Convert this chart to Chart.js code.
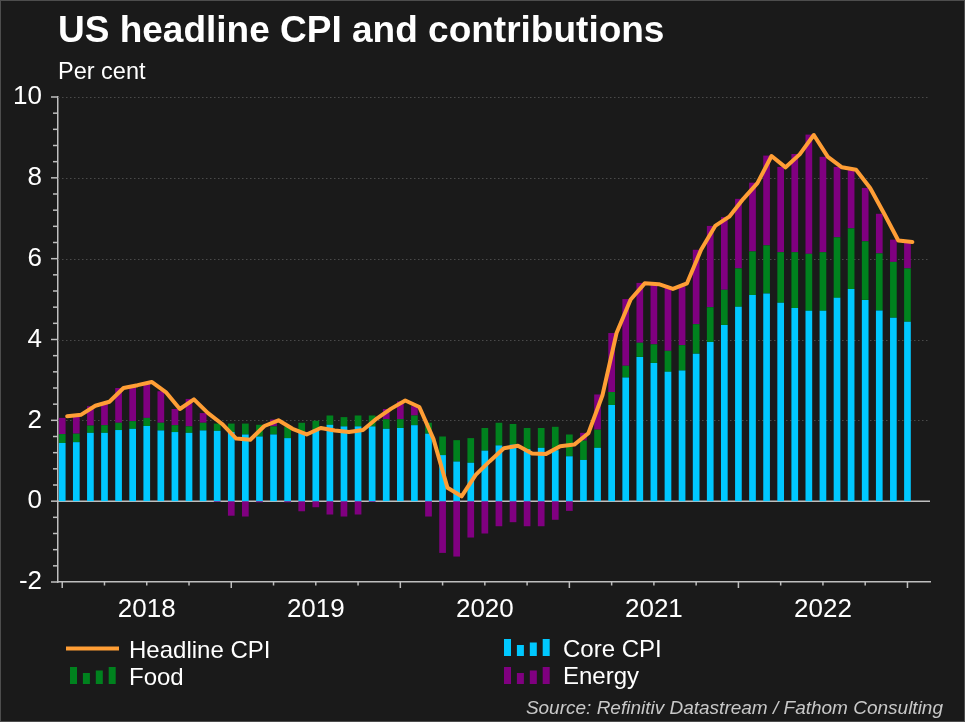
<!DOCTYPE html>
<html>
<head>
<meta charset="utf-8">
<script src="https://cdn.jsdelivr.net/npm/chart.js@4.4.1/dist/chart.umd.min.js"></script>
<style>
html,body{margin:0;padding:0;background:#1a1a1a;}
#frame{position:relative;width:965px;height:722px;background:#1a1a1a;overflow:hidden;
  font-family:"Liberation Sans",Arial,sans-serif;color:#fff;}
#edge{position:absolute;left:0;top:0;width:963px;height:720px;border:1px solid #4d4d4d;pointer-events:none;}
#chart{position:absolute;left:0;top:0;}
.txt{position:absolute;line-height:1;white-space:nowrap;}
#title{left:58px;top:11px;font-size:37px;font-weight:bold;}
#unit{left:58px;top:59.5px;font-size:23.5px;}
#source{right:22px;top:698px;font-size:19px;font-style:italic;color:#c8c8c8;}
.leg{font-size:24px;}
.icon{position:absolute;}
</style>
</head>
<body>
<div id="frame">
  <canvas id="chart" width="965" height="722"></canvas>
  <div class="txt" id="title">US headline CPI and contributions</div>
  <div class="txt" id="unit">Per cent</div>
  <div id="legend"></div>
  <div class="txt" id="source">Source: Refinitiv Datastream / Fathom Consulting</div>
  <div id="edge"></div>
</div>
<script>
/* DATA: monthly, Jan 2018 - Jan 2023, percentage points */

const months = [
"2018-01","2018-02","2018-03","2018-04","2018-05","2018-06","2018-07","2018-08","2018-09","2018-10","2018-11","2018-12",
"2019-01","2019-02","2019-03","2019-04","2019-05","2019-06","2019-07","2019-08","2019-09","2019-10","2019-11","2019-12",
"2020-01","2020-02","2020-03","2020-04","2020-05","2020-06","2020-07","2020-08","2020-09","2020-10","2020-11","2020-12",
"2021-01","2021-02","2021-03","2021-04","2021-05","2021-06","2021-07","2021-08","2021-09","2021-10","2021-11","2021-12",
"2022-01","2022-02","2022-03","2022-04","2022-05","2022-06","2022-07","2022-08","2022-09","2022-10","2022-11","2022-12",
"2023-01"];

const headline = [
2.10,2.14,2.36,2.46,2.80,2.87,2.95,2.70,2.28,2.52,2.18,1.91,
1.55,1.52,1.86,2.00,1.79,1.65,1.81,1.75,1.71,1.76,2.05,2.29,
2.49,2.33,1.54,0.33,0.12,0.65,0.99,1.31,1.37,1.18,1.17,1.36,
1.40,1.68,2.62,4.16,4.99,5.39,5.37,5.25,5.39,6.22,6.81,7.04,
7.48,7.87,8.54,8.26,8.58,9.06,8.52,8.26,8.20,7.75,7.11,6.45,
6.41];

const core = [
1.44,1.46,1.69,1.69,1.76,1.79,1.86,1.75,1.71,1.69,1.75,1.74,
1.71,1.65,1.60,1.65,1.56,1.69,1.77,1.89,1.85,1.85,1.85,1.79,
1.81,1.88,1.67,1.14,0.98,0.95,1.25,1.38,1.40,1.29,1.32,1.26,
1.11,1.02,1.32,2.38,3.06,3.57,3.42,3.20,3.23,3.65,3.94,4.36,
4.81,5.10,5.14,4.91,4.78,4.71,4.71,5.03,5.25,4.98,4.72,4.54,
4.44];

const food = [
0.22,0.21,0.18,0.19,0.18,0.19,0.20,0.19,0.17,0.16,0.19,0.18,
0.21,0.27,0.29,0.20,0.29,0.25,0.22,0.23,0.23,0.27,0.27,0.24,
0.22,0.24,0.27,0.46,0.53,0.61,0.56,0.56,0.51,0.52,0.49,0.58,
0.54,0.48,0.45,0.32,0.29,0.35,0.46,0.52,0.63,0.73,0.86,0.87,
0.95,1.08,1.19,1.25,1.38,1.41,1.45,1.50,1.50,1.45,1.41,1.38,
1.32];

const energy = [
0.40,0.47,0.48,0.55,0.86,0.86,0.87,0.78,0.40,0.68,0.24,-0.02,
-0.36,-0.38,-0.03,0.17,-0.03,-0.25,-0.15,-0.33,-0.38,-0.33,-0.02,0.25,
0.44,0.23,-0.38,-1.28,-1.37,-0.90,-0.80,-0.62,-0.52,-0.62,-0.62,-0.46,
-0.24,0.19,0.87,1.46,1.65,1.48,1.48,1.56,1.46,1.84,2.01,1.80,
1.72,1.70,2.22,2.11,2.43,2.95,2.36,1.74,1.44,1.32,0.98,0.55,
0.63];

const yearLabels = ["2018","2019","2020","2021","2022"];
const yLabelValues = [-2,0,2,4,6,8,10];
const yGridValues = [2,4,6,8,10];

/* the line sits a little right of the bars in the original (mid-month dates) */
const lineShift = 0.35;

const FONT = "'Liberation Sans', Arial, sans-serif";
const AXIS = "#bfbfbf";
const COLORS = {headline:"#ff9e35", core:"#00c8ff", food:"#00821e", energy:"#800080"};

/* tick positions: quarterly on x, every 0.4 on y */
const xTickValues = [];
for(let m=0;m<months.length;m+=3) xTickValues.push(m);
const yTickValues = [];
for(let k=0;k<=30;k++) yTickValues.push(Math.round((-2+0.4*k)*10)/10);

const pts = arr => arr.map((v,i)=>({x:i,y:v}));

/* dotted grid, zero line and tick marks */
const axisDecor = {
id:"axisDecor",
beforeDatasetsDraw(chart){
  const {ctx, chartArea:a, scales:{y}} = chart;
  ctx.save();
  ctx.strokeStyle = "#4a4a4a";
  ctx.lineWidth = 1;
  ctx.setLineDash([1.5,2.5]);
  yGridValues.forEach(v=>{
    const py = Math.round(y.getPixelForValue(v))+0.5;
    ctx.beginPath(); ctx.moveTo(a.left,py); ctx.lineTo(a.right,py); ctx.stroke();
  });
  ctx.setLineDash([]);
  ctx.strokeStyle = AXIS;
  ctx.lineWidth = 1.5;
  const z = y.getPixelForValue(0);
  ctx.beginPath(); ctx.moveTo(a.left,z); ctx.lineTo(a.right,z); ctx.stroke();
  ctx.restore();
},
afterDraw(chart){
  const {ctx, chartArea:a, scales:{x,y}} = chart;
  ctx.save();
  ctx.strokeStyle = AXIS;
  ctx.lineWidth = 1.5;
  yTickValues.forEach(v=>{
    const py = y.getPixelForValue(v);
    const len = yLabelValues.includes(v) ? 7 : 5;
    ctx.beginPath(); ctx.moveTo(a.left,py); ctx.lineTo(a.left-len,py); ctx.stroke();
  });
  xTickValues.forEach(v=>{
    const px = x.getPixelForValue(v);
    const len = v%12===0 ? 6 : 3.5;
    ctx.beginPath(); ctx.moveTo(px,a.bottom); ctx.lineTo(px,a.bottom+len); ctx.stroke();
  });
  ctx.restore();
}
};

const chart = new Chart(document.getElementById("chart"),{
data:{
datasets:[
{
type:"line",
label:"Headline CPI",
data:headline.map((v,i)=>({x:i+lineShift,y:v})),
borderColor:COLORS.headline,
borderWidth:4,
pointRadius:0,
tension:0,
borderJoinStyle:"round",
borderCapStyle:"round",
stack:"headline",
order:0
},
{type:"bar", label:"Core CPI", data:pts(core), backgroundColor:COLORS.core, stack:"contrib", order:1},
{type:"bar", label:"Food", data:pts(food), backgroundColor:COLORS.food, stack:"contrib", order:1},
{type:"bar", label:"Energy", data:pts(energy), backgroundColor:COLORS.energy, stack:"contrib", order:1}
]
},
options:{
responsive:false,
animation:false,
layout:{padding:{left:0,top:97,right:35,bottom:95}},
datasets:{bar:{categoryPercentage:0.5,barPercentage:0.95}},
plugins:{legend:{display:false},tooltip:{enabled:false}},
scales:{
x:{
type:"linear",
min:-0.3,
max:61.6,
offset:false,
stacked:true,
grid:{display:false,drawTicks:false,offset:false},
border:{color:AXIS,width:1.5},
afterBuildTicks:s=>{ s.ticks = xTickValues.map(v=>({value:v})); },
afterFit:s=>{ s.height = 45; },
ticks:{
autoSkip:false,
maxRotation:0,
padding:12,
color:"#fff",
font:{family:FONT,size:26},
callback:v=> v%12===6 ? yearLabels[(v-6)/12] : ""
}
},
y:{
min:-2,
max:10,
stacked:true,
grid:{display:false,drawTicks:false},
border:{color:AXIS,width:1.5},
afterBuildTicks:s=>{ s.ticks = yTickValues.map(v=>({value:v})); },
afterFit:s=>{ s.width = 58; },
ticks:{
autoSkip:false,
padding:16,
color:"#fff",
font:{family:FONT,size:26},
callback:v=> yLabelValues.includes(v) ? String(v) : ""
}
}
}
},
plugins:[axisDecor]
});


/* LEGEND: two columns, icons drawn from the dataset colours */

const legendSlots = {
"Headline CPI":{icon:[66,640], text:[129,638]},
"Core CPI":{icon:[504,639], text:[563,637]},
"Food":{icon:[70,667], text:[129,664.7]},
"Energy":{icon:[504,666.7], text:[563,664]}
};

const legend = document.getElementById("legend");

chart.data.datasets.forEach(ds=>{
const slot = legendSlots[ds.label];
const c = document.createElement("canvas");
c.className = "icon";
c.style.left = slot.icon[0]+"px";
c.style.top = slot.icon[1]+"px";
const g = c.getContext("2d");
if(ds.type==="line"){
  c.width = 54; c.height = 17;
  g.fillStyle = ds.borderColor;
  g.fillRect(0,6.5,53,4);
}else{
  c.width = 47; c.height = 18;
  g.fillStyle = ds.backgroundColor;
  const hs = [17,11,13.5,17];
  hs.forEach((h,k)=>g.fillRect(k*12.9,17-h,7,h));
}
legend.appendChild(c);
const t = document.createElement("div");
t.className = "txt leg";
t.style.left = slot.text[0]+"px";
t.style.top = slot.text[1]+"px";
t.textContent = ds.label;
legend.appendChild(t);
});
</script>
</body>
</html>
